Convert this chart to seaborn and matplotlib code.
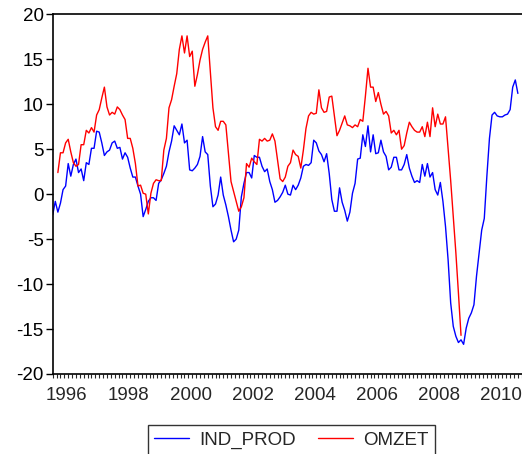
import numpy as np
import pandas as pd
import matplotlib
matplotlib.use("Agg")
import matplotlib.pyplot as plt
import seaborn as sns

# monthly data 1996M1 .. 2011M1
start_year = 1996
ind_prod = [
    -2.3, -0.8, -2.0, -1.0, 0.5, 0.9, 3.4, 2.0, 3.3, 3.9,
    2.4, 2.8, 1.5, 3.5, 3.3, 5.1, 5.1, 7.0, 6.9, 5.7,
    4.3, 4.7, 4.9, 5.7, 5.9, 5.1, 5.2, 3.9, 4.6, 4.1,
    2.9, 1.9, 1.9, 0.9, 0.0, -2.5, -1.7, -0.8, -0.4, -0.4,
    -0.7, 1.2, 1.6, 2.3, 3.1, 4.7, 5.9, 7.6, 7.1, 6.6,
    7.8, 5.7, 6.0, 2.7, 2.6, 2.9, 3.3, 4.2, 6.4, 4.7,
    4.4, 0.9, -1.4, -1.1, -0.1, 1.9, -0.1, -1.2, -2.5, -4.0,
    -5.3, -5.0, -4.0, -0.3, 1.2, 2.4, 2.4, 1.8, 4.3, 4.1,
    4.1, 3.1, 2.5, 2.8, 1.4, 0.5, -0.9, -0.7, -0.3, 0.2,
    1.0, 0.0, -0.1, 1.0, 0.5, 1.0, 1.8, 3.1, 3.3, 3.2,
    3.5, 6.0, 5.7, 4.8, 4.4, 3.6, 4.5, 2.3, -0.6, -1.9,
    -1.9, 0.7, -0.9, -1.8, -3.0, -2.0, 0.1, 1.2, 3.9, 4.0,
    6.6, 5.3, 7.6, 4.7, 6.6, 4.5, 4.6, 6.0, 4.7, 4.2,
    2.7, 3.0, 4.1, 4.1, 2.7, 2.7, 3.3, 4.4, 2.9, 2.0,
    1.3, 1.5, 1.3, 3.3, 2.0, 3.4, 1.9, 2.4, 0.5, -0.1,
    1.3, -0.8, -3.6, -7.3, -12.1, -14.7, -15.8, -16.5, -16.2, -16.7,
    -14.9, -13.8, -13.2, -12.3, -9.1, -6.6, -4.0, -2.7, 2.0, 6.2,
    8.8, 9.1, 8.7, 8.6, 8.6, 8.8, 8.9, 9.4, 11.9, 12.7,
    11.2,
]
# OMZET starts in 1996M3 and ends in 2009M3
omzet_start = 2
omzet = [
    2.4, 4.6, 4.6, 5.7, 6.1, 4.7, 3.5, 3.1, 3.3, 5.5,
    5.5, 7.1, 6.8, 7.4, 6.9, 8.8, 9.4, 10.7, 11.9, 9.7,
    8.8, 9.1, 8.9, 9.7, 9.4, 8.8, 8.3, 6.2, 6.2, 5.1,
    3.4, 0.9, 1.0, 0.1, 0.0, -2.2, 0.1, 1.2, 1.6, 1.5,
    1.5, 4.9, 6.2, 9.6, 10.5, 12.0, 13.4, 16.1, 17.6, 15.7,
    17.6, 15.3, 15.9, 12.0, 13.3, 14.9, 16.1, 16.9, 17.6, 13.6,
    9.6, 7.5, 7.1, 8.1, 8.1, 7.7, 4.6, 1.4, 0.3, -0.8,
    -1.9, -1.4, -0.4, 3.4, 3.0, 4.0, 3.6, 3.3, 6.1, 5.9,
    6.2, 5.9, 6.0, 6.7, 5.9, 3.8, 1.7, 1.4, 1.9, 3.1,
    3.5, 4.9, 4.4, 4.2, 2.9, 4.9, 7.3, 8.7, 9.1, 8.9,
    9.0, 11.6, 9.6, 9.1, 9.2, 10.8, 10.9, 8.7, 6.5, 7.1,
    7.9, 8.7, 7.7, 7.6, 7.4, 7.7, 7.5, 8.3, 8.1, 10.9,
    14.0, 11.9, 11.9, 10.3, 11.3, 10.0, 8.9, 9.2, 8.7, 6.8,
    7.1, 6.6, 7.1, 5.0, 5.4, 6.8, 8.0, 7.5, 7.1, 6.9,
    6.9, 7.5, 6.4, 8.0, 6.4, 9.6, 7.5, 8.9, 7.8, 7.8,
    8.6, 5.0, 1.5, -2.5, -6.5, -11.0, -15.7,
]
series_names = ["IND_PROD", "OMZET"]
year_labels = ["1996", "1998", "2000", "2002", "2004", "2006", "2008", "2010"]
y_ticks = [-20, -15, -10, -5, 0, 5, 10, 15, 20]

t_ind = [start_year + i / 12 for i in range(len(ind_prod))]
t_omz = [start_year + (omzet_start + i) / 12 for i in range(len(omzet))]
df = pd.concat([
    pd.DataFrame({"t": t_ind, "value": ind_prod, "series": series_names[0]}),
    pd.DataFrame({"t": t_omz, "value": omzet, "series": series_names[1]}),
], ignore_index=True)

sns.set_style("ticks")
plt.rcParams["font.family"] = ["Liberation Sans", "DejaVu Sans"]

fig = plt.figure(figsize=(5.22, 4.54), dpi=100)
ax = fig.add_axes([52.7 / 522, 1 - 374 / 454, 1 - 52.7 / 522 + 0.002, (374 - 14.3) / 454])

sns.lineplot(data=df, x="t", y="value", hue="series", ax=ax,
             palette={"IND_PROD": "#0000ff", "OMZET": "#ff0000"},
             linewidth=1.0, estimator=None, sort=False)

ax.set_xlim(start_year, start_year + 182 / 12)
ax.set_ylim(-20, 20)
ax.set_xlabel("")
ax.set_ylabel("")

ax.set_yticks(y_ticks)
ax.set_yticklabels([str(v) for v in y_ticks])
ax.tick_params(axis="y", direction="out", length=5, width=1.0, pad=1.5,
               labelsize=13.5, colors="black")

maj = [int(l) + 5.5 / 12 for l in year_labels]
ax.set_xticks(maj)
ax.set_xticklabels(year_labels)
ax.set_xticks(np.arange(start_year, start_year + 182 / 12, 0.125), minor=True)
ax.tick_params(axis="x", which="major", length=0, pad=9, labelsize=13.5)
ax.tick_params(axis="x", which="minor", direction="out", length=3, width=0.8)

for s in ["left", "bottom", "top"]:
    ax.spines[s].set_visible(True)
    ax.spines[s].set_linewidth(1.2)
    ax.spines[s].set_color("black")
ax.spines["right"].set_visible(False)
ax.grid(False)

ax.legend_.remove()
handles, labels = ax.get_legend_handles_labels()
leg = fig.legend(handles, labels, loc="upper center", ncol=2,
                 bbox_to_anchor=(291.5 / 522, 1 - 425 / 454),
                 fontsize=13.5, frameon=True, fancybox=False, edgecolor="black",
                 handlelength=1.85, handletextpad=0.55, columnspacing=1.2,
                 borderpad=0.35, borderaxespad=0)
leg.get_frame().set_linewidth(1.0)

fig.savefig("out.png", dpi=100)
